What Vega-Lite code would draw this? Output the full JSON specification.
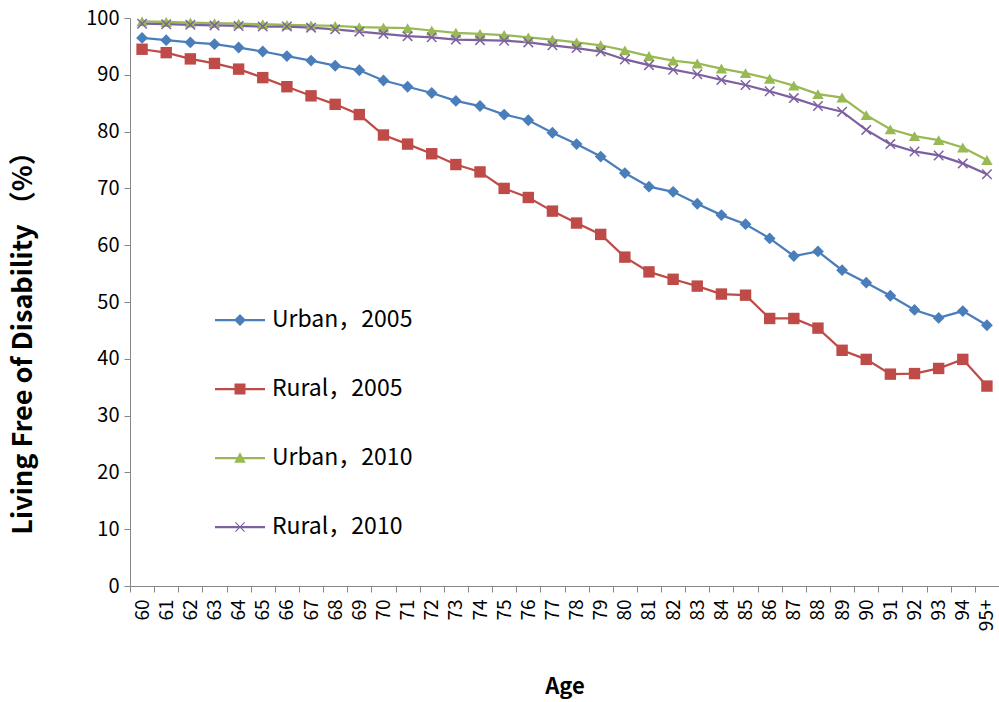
{
  "$schema": "https://vega.github.io/schema/vega-lite/v6.json",
  "width": 869,
  "height": 568,
  "autosize": {"type": "none"},
  "padding": {"left": 130, "top": 18, "right": 0, "bottom": 116},
  "background": "white",
  "config": {"font": "Noto Sans CJK SC", "view": {"stroke": null}},
  "data": {
    "values": [
      {"age": "60", "Urban，2005": 96.5, "Rural，2005": 94.5, "Urban，2010": 99.4, "Rural，2010": 99.0},
      {"age": "61", "Urban，2005": 96.1, "Rural，2005": 93.9, "Urban，2010": 99.3, "Rural，2010": 98.9},
      {"age": "62", "Urban，2005": 95.7, "Rural，2005": 92.8, "Urban，2010": 99.2, "Rural，2010": 98.8},
      {"age": "63", "Urban，2005": 95.4, "Rural，2005": 92.0, "Urban，2010": 99.1, "Rural，2010": 98.7},
      {"age": "64", "Urban，2005": 94.8, "Rural，2005": 91.0, "Urban，2010": 99.0, "Rural，2010": 98.6},
      {"age": "65", "Urban，2005": 94.1, "Rural，2005": 89.5, "Urban，2010": 98.9, "Rural，2010": 98.5},
      {"age": "66", "Urban，2005": 93.3, "Rural，2005": 87.9, "Urban，2010": 98.8, "Rural，2010": 98.5},
      {"age": "67", "Urban，2005": 92.5, "Rural，2005": 86.3, "Urban，2010": 98.7, "Rural，2010": 98.3},
      {"age": "68", "Urban，2005": 91.6, "Rural，2005": 84.8, "Urban，2010": 98.6, "Rural，2010": 98.0},
      {"age": "69", "Urban，2005": 90.8, "Rural，2005": 83.0, "Urban，2010": 98.4, "Rural，2010": 97.6},
      {"age": "70", "Urban，2005": 89.0, "Rural，2005": 79.4, "Urban，2010": 98.3, "Rural，2010": 97.2},
      {"age": "71", "Urban，2005": 87.9, "Rural，2005": 77.8, "Urban，2010": 98.2, "Rural，2010": 96.8},
      {"age": "72", "Urban，2005": 86.8, "Rural，2005": 76.1, "Urban，2010": 97.8, "Rural，2010": 96.6},
      {"age": "73", "Urban，2005": 85.4, "Rural，2005": 74.2, "Urban，2010": 97.4, "Rural，2010": 96.2},
      {"age": "74", "Urban，2005": 84.5, "Rural，2005": 72.9, "Urban，2010": 97.2, "Rural，2010": 96.1},
      {"age": "75", "Urban，2005": 83.0, "Rural，2005": 70.0, "Urban，2010": 97.0, "Rural，2010": 96.0},
      {"age": "76", "Urban，2005": 82.0, "Rural，2005": 68.4, "Urban，2010": 96.6, "Rural，2010": 95.7},
      {"age": "77", "Urban，2005": 79.8, "Rural，2005": 66.0, "Urban，2010": 96.2, "Rural，2010": 95.2},
      {"age": "78", "Urban，2005": 77.8, "Rural，2005": 63.9, "Urban，2010": 95.7, "Rural，2010": 94.7},
      {"age": "79", "Urban，2005": 75.6, "Rural，2005": 61.9, "Urban，2010": 95.2, "Rural，2010": 94.1},
      {"age": "80", "Urban，2005": 72.7, "Rural，2005": 57.9, "Urban，2010": 94.3, "Rural，2010": 92.7},
      {"age": "81", "Urban，2005": 70.3, "Rural，2005": 55.3, "Urban，2010": 93.3, "Rural，2010": 91.7},
      {"age": "82", "Urban，2005": 69.4, "Rural，2005": 54.0, "Urban，2010": 92.5, "Rural，2010": 90.9},
      {"age": "83", "Urban，2005": 67.3, "Rural，2005": 52.8, "Urban，2010": 92.0, "Rural，2010": 90.1},
      {"age": "84", "Urban，2005": 65.3, "Rural，2005": 51.4, "Urban，2010": 91.1, "Rural，2010": 89.1},
      {"age": "85", "Urban，2005": 63.7, "Rural，2005": 51.2, "Urban，2010": 90.3, "Rural，2010": 88.2},
      {"age": "86", "Urban，2005": 61.2, "Rural，2005": 47.1, "Urban，2010": 89.3, "Rural，2010": 87.1},
      {"age": "87", "Urban，2005": 58.1, "Rural，2005": 47.1, "Urban，2010": 88.1, "Rural，2010": 85.9},
      {"age": "88", "Urban，2005": 58.9, "Rural，2005": 45.4, "Urban，2010": 86.6, "Rural，2010": 84.5},
      {"age": "89", "Urban，2005": 55.6, "Rural，2005": 41.5, "Urban，2010": 86.0, "Rural，2010": 83.5},
      {"age": "90", "Urban，2005": 53.4, "Rural，2005": 39.9, "Urban，2010": 82.9, "Rural，2010": 80.3},
      {"age": "91", "Urban，2005": 51.1, "Rural，2005": 37.3, "Urban，2010": 80.4, "Rural，2010": 77.8},
      {"age": "92", "Urban，2005": 48.6, "Rural，2005": 37.4, "Urban，2010": 79.2, "Rural，2010": 76.5},
      {"age": "93", "Urban，2005": 47.2, "Rural，2005": 38.3, "Urban，2010": 78.5, "Rural，2010": 75.8},
      {"age": "94", "Urban，2005": 48.4, "Rural，2005": 39.9, "Urban，2010": 77.2, "Rural，2010": 74.4},
      {"age": "95+", "Urban，2005": 45.9, "Rural，2005": 35.2, "Urban，2010": 75.0, "Rural，2010": 72.5}
    ]
  },
  "transform": [
    {"fold": ["Urban，2005", "Rural，2005", "Urban，2010", "Rural，2010"], "as": ["series", "value"]}
  ],
  "encoding": {
    "x": {
      "field": "age",
      "type": "ordinal",
      "sort": null,
      "scale": {"type": "band", "paddingInner": 0, "paddingOuter": 0},
      "axis": {
        "title": "Age",
        "labelAngle": -90,
        "labelFontSize": 19,
        "labelColor": "black",
        "labelPadding": 7,
        "tickBand": "extent",
        "tickSize": 6,
        "tickColor": "#868686",
        "domainColor": "#868686",
        "titleFontSize": 22,
        "titleFontWeight": "bold",
        "titleColor": "black",
        "titleY": 100,
        "titleBaseline": "middle"
      }
    },
    "y": {
      "field": "value",
      "type": "quantitative",
      "scale": {"domain": [0, 100], "nice": false},
      "axis": {
        "title": "Living Free of Disability （%）",
        "values": [0, 10, 20, 30, 40, 50, 60, 70, 80, 90, 100],
        "grid": false,
        "domainColor": "#868686",
        "tickColor": "#868686",
        "tickSize": 6,
        "labelFontSize": 20,
        "labelColor": "black",
        "labelPadding": 5,
        "titleFontSize": 27,
        "titleFontWeight": "bold",
        "titleColor": "black",
        "titleX": -107,
        "titleY": 318,
        "titleAngle": -90,
        "titleAlign": "center",
        "titleBaseline": "middle"
      }
    },
    "color": {
      "field": "series",
      "type": "nominal",
      "scale": {
        "domain": ["Urban，2005", "Rural，2005", "Urban，2010", "Rural，2010"],
        "range": ["#4A7EBB", "#BE4B48", "#98B954", "#7D60A0"]
      },
      "legend": {
        "orient": "none",
        "legendX": 85,
        "legendY": 277,
        "title": null,
        "padding": 0,
        "direction": "vertical",
        "symbolSize": 2500,
        "symbolStrokeWidth": 0,
        "symbolOpacity": 1,
        "labelFontSize": 23,
        "labelColor": "black",
        "labelOffset": 7,
        "rowPadding": 32
      }
    }
  },
  "layer": [
    {"mark": {"type": "line", "strokeWidth": 2.25}},
    {
      "transform": [{"filter": "datum.series === 'Urban，2005'"}],
      "mark": {"type": "point", "shape": "diamond", "filled": true, "opacity": 1, "size": 140}
    },
    {
      "transform": [{"filter": "datum.series === 'Rural，2005'"}],
      "mark": {"type": "point", "shape": "square", "filled": true, "opacity": 1, "size": 130}
    },
    {
      "transform": [{"filter": "datum.series === 'Urban，2010'"}],
      "mark": {"type": "point", "shape": "triangle-up", "filled": true, "opacity": 1, "size": 130}
    },
    {
      "transform": [{"filter": "datum.series === 'Rural，2010'"}],
      "mark": {"type": "point", "shape": "M-1,-0.8L-0.8,-1L0,-0.2L0.8,-1L1,-0.8L0.2,0L1,0.8L0.8,1L0,0.2L-0.8,1L-1,0.8L-0.2,0Z", "filled": true, "opacity": 1, "size": 110}
    },
    {
      "mark": {"type": "point", "filled": true, "opacity": 1, "size": 0},
      "encoding": {
        "shape": {
          "field": "series",
          "type": "nominal",
          "scale": {
            "domain": ["Urban，2005", "Rural，2005", "Urban，2010", "Rural，2010"],
            "range": [
              "M-1,-0.045H1V0.045H-1Z M0,-0.24L0.24,0L0,0.24L-0.24,0Z",
              "M-1,-0.045H1V0.045H-1Z M-0.22,-0.22H0.22V0.22H-0.22Z",
              "M-1,-0.045H1V0.045H-1Z M0,-0.23L0.23,0.19H-0.23Z",
              "M-1,-0.045H1V0.045H-1Z M-0.2,-0.17L-0.17,-0.2L0,-0.03L0.17,-0.2L0.2,-0.17L0.03,0L0.2,0.17L0.17,0.2L0,0.03L-0.17,0.2L-0.2,0.17L-0.03,0Z"
            ]
          },
          "legend": {
            "orient": "none",
            "legendX": 85,
            "legendY": 277,
            "title": null,
            "padding": 0,
            "direction": "vertical",
            "symbolSize": 2500,
            "symbolStrokeWidth": 0,
            "symbolOpacity": 1,
            "labelFontSize": 23,
            "labelColor": "black",
            "labelOffset": 7,
            "rowPadding": 32
          }
        }
      }
    }
  ]
}
